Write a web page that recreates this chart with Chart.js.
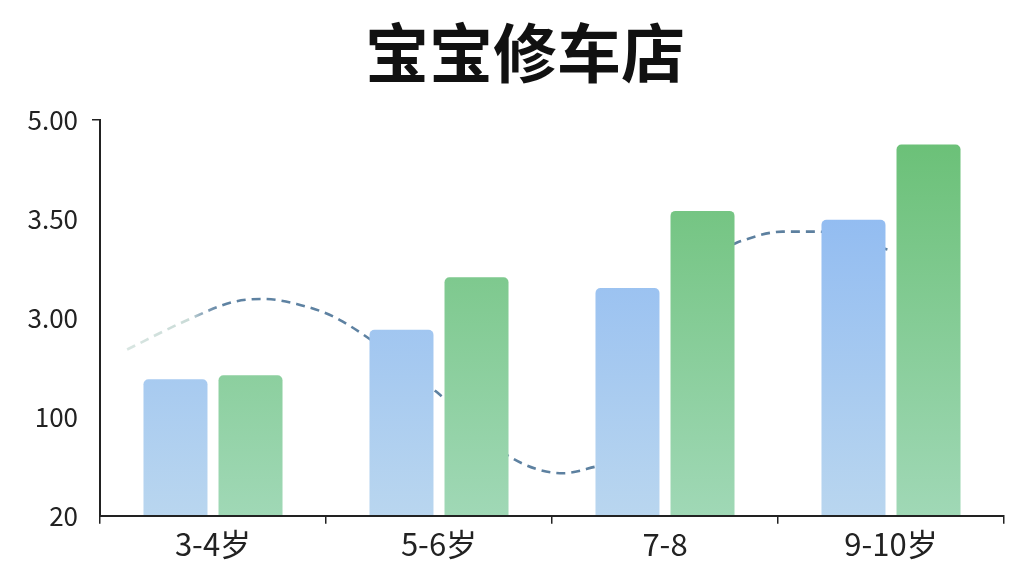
<!DOCTYPE html>
<html>
<head>
<meta charset="utf-8">
<script src="https://cdn.jsdelivr.net/npm/chart.js@4.4.1/dist/chart.umd.min.js"></script>
<style>
html,body{margin:0;padding:0;background:#fff;}
#wrap{width:1024px;height:576px;}
</style>
</head>
<body>
<div id="wrap"><canvas id="c" width="1024" height="576"></canvas></div>
<script>
const TITLE = '宝宝修车店';
const categories = ['3-4岁', '5-6岁', '7-8', '9-10岁'];
const yTickLabels = ['20', '100', '3.00', '3.50', '5.00'];
const blueValues = [1.38, 1.88, 2.30, 2.99];
const greenValues = [1.42, 2.41, 3.08, 3.75];
// trend line: position along the category axis (category index units) and value; null = break in the line
const lineX = [-0.38, -0.13, 0.09, 0.22, 0.37, 0.56, 0.99, 1.31, 1.55, 1.70, 1.76, 2.01, 2.30, 2.33, 2.52, 2.67, 3.00];
const lineY = [1.68, 1.96, 2.16, 2.19, 2.14, 1.98, 1.25, 0.60, 0.43, 0.50, 0.53, null, 2.74, 2.77, 2.87, 2.87, 2.68];

const FONT = '"Noto Sans CJK SC", "Noto Sans", sans-serif';

function vGrad(ctx, area, top, bottom) {
  const g = ctx.createLinearGradient(0, area.top, 0, area.bottom);
  g.addColorStop(0, top);
  g.addColorStop(1, bottom);
  return g;
}

// draws the title text (box space is reserved by the built-in title plugin)
const titleText = {
  id: 'titleText',
  afterDraw(chart) {
    const tb = chart.titleBlock;
    if (!tb) return;
    const ctx = chart.ctx;
    ctx.save();
    ctx.font = 'bold 64px ' + FONT;
    ctx.fillStyle = '#111';
    ctx.textAlign = 'center';
    ctx.textBaseline = 'middle';
    const f = chart.options.plugins.title;
    ctx.fillText(TITLE, (tb.left + tb.right) / 2 + 13, tb.top + f.padding.top + 64 * 1.2 / 2);
    ctx.restore();
  }
};

const chart = new Chart(document.getElementById('c'), {
  type: 'bar',
  data: {
    labels: categories,
    datasets: [
      {
        type: 'bar',
        label: 'blue',
        data: blueValues,
        order: 1,
        backgroundColor: (c) => {
          const a = c.chart.chartArea;
          if (!a) return '#8cbaf2';
          return vGrad(c.chart.ctx, a, '#86b4f2', '#b9d6ef');
        },
        borderRadius: {topLeft: 5, topRight: 5, bottomLeft: 0, bottomRight: 0},
        borderSkipped: 'bottom',
        barPercentage: 0.853,
        categoryPercentage: 0.664
      },
      {
        type: 'bar',
        label: 'green',
        data: greenValues,
        order: 1,
        backgroundColor: (c) => {
          const a = c.chart.chartArea;
          if (!a) return '#6cc17a';
          return vGrad(c.chart.ctx, a, '#68bf74', '#a0d8b6');
        },
        borderRadius: {topLeft: 5, topRight: 5, bottomLeft: 0, bottomRight: 0},
        borderSkipped: 'bottom',
        barPercentage: 0.853,
        categoryPercentage: 0.664
      },
      {
        type: 'line',
        label: 'trend',
        parsing: false,
        spanGaps: false,
        data: lineX.map((x, i) => ({x: x, y: lineY[i]})),
        order: 2,
        borderWidth: 2.6,
        borderDash: [9, 6],
        borderCapStyle: 'butt',
        pointRadius: 0,
        tension: 0.4,
        cubicInterpolationMode: 'monotone',
        fill: false,
        borderColor: (c) => {
          const a = c.chart.chartArea;
          if (!a) return '#5c7f9e';
          const g = c.chart.ctx.createLinearGradient(a.left, 0, a.right, 0);
          g.addColorStop(0, '#dfeae6');
          g.addColorStop(0.10, '#c9dbd7');
          g.addColorStop(0.115, '#86a1b8');
          g.addColorStop(0.135, '#5e82a2');
          g.addColorStop(1, '#5c7f9e');
          return g;
        }
      }
    ]
  },
  plugins: [titleText],
  options: {
    responsive: false,
    animation: false,
    devicePixelRatio: 1,
    layout: {padding: {left: 20, right: 20, top: 0, bottom: 11}},
    plugins: {
      legend: {display: false},
      tooltip: {enabled: false},
      title: {
        display: true,
        text: TITLE,
        color: 'rgba(0,0,0,0)',
        font: {family: FONT, size: 64, weight: 'bold', lineHeight: 1.2},
        padding: {top: 14, bottom: 29}
      }
    },
    scales: {
      x: {
        type: 'category',
        offset: true,
        grid: {display: true, offset: true, drawOnChartArea: false, drawTicks: true, tickLength: 8, color: '#222', lineWidth: 1.5},
        border: {display: true, color: '#222', width: 2},
        ticks: {color: '#222', font: {family: FONT, size: 31}, padding: 2}
      },
      y: {
        type: 'linear',
        min: 0,
        max: 4,
        afterFit: (s) => { s.width = 80; },
        grid: {
          display: true,
          drawOnChartArea: false,
          drawTicks: true,
          tickLength: 8,
          lineWidth: 1.5,
          color: (c) => (c.index === 4 ? '#222' : 'rgba(0,0,0,0)')
        },
        border: {display: true, color: '#222', width: 2},
        ticks: {
          stepSize: 1,
          color: '#222',
          padding: 14,
          font: {family: FONT, size: 26},
          callback: (v) => yTickLabels[v] !== undefined ? yTickLabels[v] : ''
        }
      }
    }
  }
});
</script>
</body>
</html>
